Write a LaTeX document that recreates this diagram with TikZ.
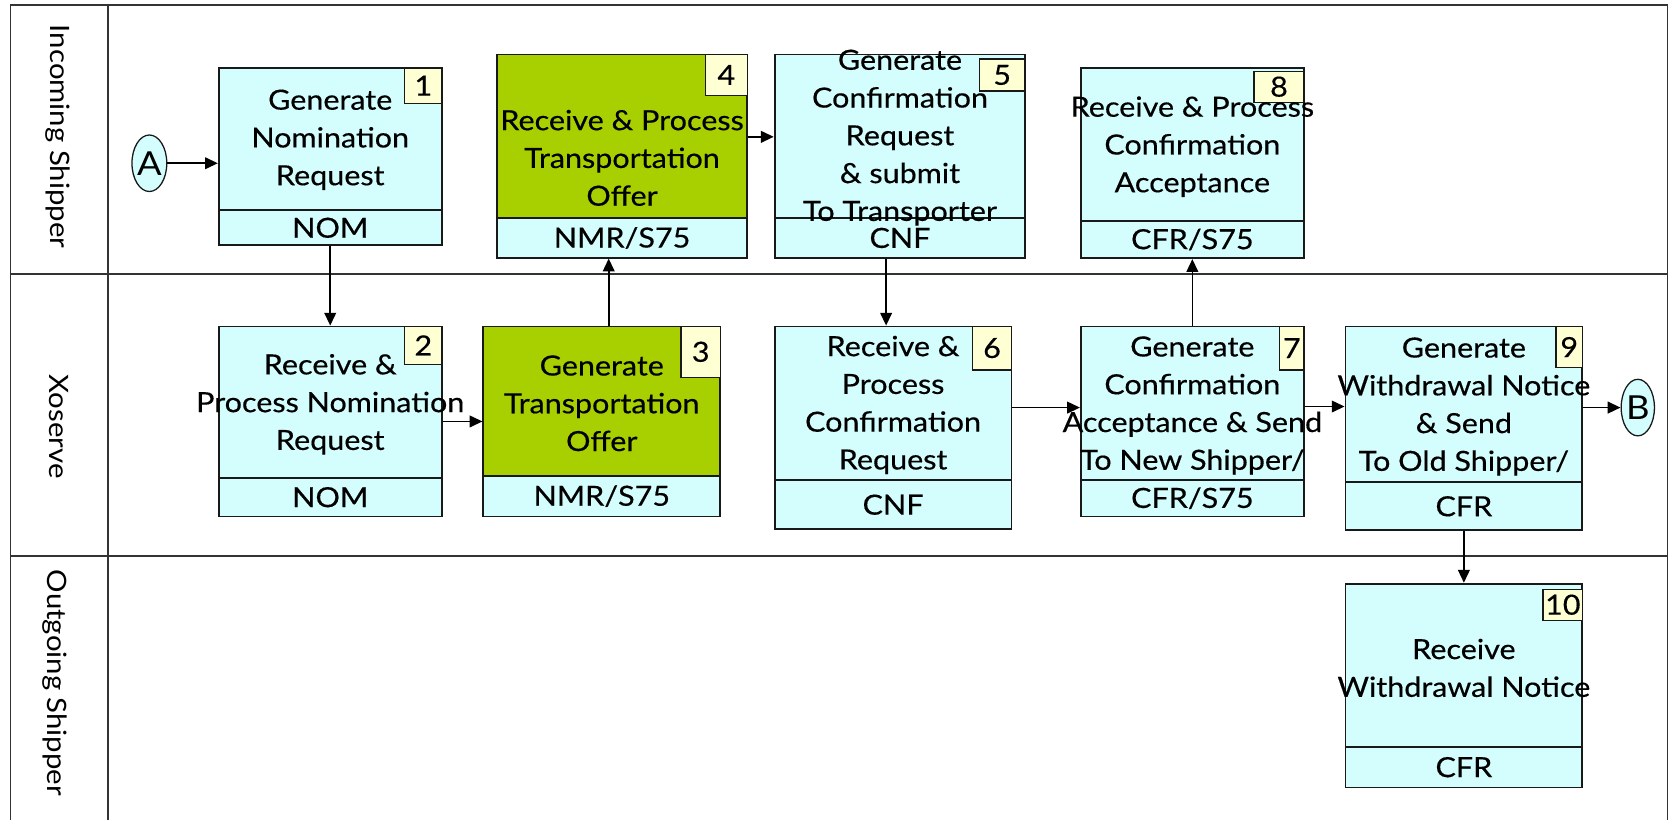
\documentclass[tikz,border=0pt]{standalone}
\usepackage{fontspec}
\setmainfont{Lato}[FakeStretch=1.1,FakeBold=0.4]
\newfontfamily\lanefont{Lato}[FakeStretch=1.1]
\usetikzlibrary{arrows.meta,calc,shapes.geometric}

\definecolor{boxcyan}{RGB}{212,253,253}
\definecolor{boxgreen}{RGB}{168,207,0}
\definecolor{tagyellow}{RGB}{255,255,212}

\begin{document}
\begin{tikzpicture}[x=1pt,y=-1pt,font=\fontsize{26}{35.4}\selectfont]

\tikzset{procbox/.style={draw=black!90,fill=boxcyan,line width=1.7pt,inner sep=0pt,shape=rectangle},
greenbox/.style={procbox,fill=boxgreen},
codepart/.style={procbox,anchor=south},
numtag/.style={draw=black!90,fill=tagyellow,line width=1.2pt,inner sep=0pt,anchor=north east},
steptext/.style={align=center,inner sep=0pt},
connector/.style={shape=ellipse,draw=black!90,fill=boxcyan,line width=1.2pt,inner sep=0pt,minimum width=26pt,minimum height=53pt,font=\lanefont\fontsize{31}{31}\selectfont},
lanelabel/.style={rotate=-90,font=\lanefont\fontsize{25}{30}\selectfont},
flow/.style={-{Triangle[length=12pt,width=11pt]},line width=1.5pt}}

\useasboundingbox (0,0) rectangle (1568,767.6);

% Swim lanes
\draw[line width=1.5pt,draw=black!80] (10,4.5) rectangle (1563,772);
\draw[line width=1.5pt,draw=black!80] (101.5,4.5) -- (101.5,772);
\draw[line width=1.5pt,draw=black!80] (10,257) -- (1563,257);
\draw[line width=1.5pt,draw=black!80] (10,521) -- (1563,521);
\node[lanelabel] (lane1) at (54,128) {Incoming Shipper};
\node[lanelabel] (lane2) at (55,400) {Xoserve};
\node[lanelabel] (lane3) at (51,640) {Outgoing Shipper};

% Process boxes
\node[procbox,minimum width=209pt,minimum height=166pt] (b1) at (309.5,147) {};
\node[procbox,minimum width=209pt,minimum height=178pt] (b2) at (309.5,395) {};
\node[greenbox,minimum width=222pt,minimum height=178pt] (b3) at (564,395) {};
\node[greenbox,minimum width=234pt,minimum height=190.5pt] (b4) at (583,146.25) {};
\node[procbox,minimum width=235pt,minimum height=190.5pt] (b5) at (843.5,146.25) {};
\node[procbox,minimum width=222pt,minimum height=190pt] (b6) at (837,401) {};
\node[procbox,minimum width=209pt,minimum height=178pt] (b7) at (1117.5,395) {};
\node[procbox,minimum width=209pt,minimum height=178pt] (b8) at (1117.5,153) {};
\node[procbox,minimum width=222pt,minimum height=191pt] (b9) at (1372,401.5) {};
\node[procbox,minimum width=222pt,minimum height=191pt] (b10) at (1372,642.5) {};

% Flow codes
\node[codepart,minimum width=209pt,minimum height=33pt] (b1c) at (b1.south) {NOM};
\node[codepart,minimum width=209pt,minimum height=36pt] (b2c) at (b2.south) {NOM};
\node[codepart,minimum width=222pt,minimum height=38pt] (b3c) at (b3.south) {NMR/S75};
\node[codepart,minimum width=234pt,minimum height=37pt] (b4c) at (b4.south) {NMR/S75};
\node[codepart,minimum width=235pt,minimum height=37pt] (b5c) at (b5.south) {CNF};
\node[codepart,minimum width=222pt,minimum height=46pt] (b6c) at (b6.south) {CNF};
\node[codepart,minimum width=209pt,minimum height=34pt] (b7c) at (b7.south) {CFR/S75};
\node[codepart,minimum width=209pt,minimum height=35pt] (b8c) at (b8.south) {CFR/S75};
\node[codepart,minimum width=222pt,minimum height=45pt] (b9c) at (b9.south) {CFR};
\node[codepart,minimum width=222pt,minimum height=38pt] (b10c) at (b10.south) {CFR};

% Step numbers
\node[numtag,minimum width=35pt,minimum height=33pt] (b1n) at (b1.north east) {1};
\node[numtag,minimum width=35pt,minimum height=36pt] (b2n) at (b2.north east) {2};
\node[numtag,minimum width=37pt,minimum height=48pt] (b3n) at (b3.north east) {3};
\node[numtag,minimum width=39pt,minimum height=39pt] (b4n) at (b4.north east) {4};
\node[numtag,minimum width=42pt,minimum height=30pt] (b5n) at ([shift={(-1pt,-4.5pt)}]b5.north east) {5};
\node[numtag,minimum width=37pt,minimum height=41pt] (b6n) at (b6.north east) {6};
\node[numtag,minimum width=23pt,minimum height=41pt] (b7n) at (b7.north east) {7};
\node[numtag,minimum width=47pt,minimum height=29pt] (b8n) at ([yshift=-3pt]b8.north east) {8};
\node[numtag,minimum width=25pt,minimum height=39pt] (b9n) at (b9.north east) {9};
\node[numtag,minimum width=37pt,minimum height=29pt] (b10n) at ([yshift=-5.5pt]b10.north east) {10};

% Step texts
\node[steptext] (b1t) at (309.5,131) {Generate\\Nomination\\Request};
\node[steptext] (b2t) at (309.5,379) {Receive \&\\Process Nomination\\Request};
\node[steptext] (b3t) at (564,378) {Generate\\Transportation\\Offer};
\node[steptext] (b4t) at (583,148) {Receive \& Process\\Transportation\\Offer};
\node[steptext] (b5t) at (843.5,129) {Generate\\Confirmation\\Request\\\& submit\\To Transporter};
\node[steptext] (b6t) at (837,379.6) {Receive \&\\Process\\Confirmation\\Request};
\node[steptext] (b7t) at (1117.5,380) {Generate\\Confirmation\\Acceptance \& Send\\To New Shipper/};
\node[steptext] (b8t) at (1117.5,137.5) {Receive \& Process\\Confirmation\\Acceptance};
\node[steptext] (b9t) at (1372,381) {Generate\\Withdrawal Notice\\\& Send\\To Old Shipper/};
\node[steptext] (b10t) at (1372,626) {Receive\\Withdrawal Notice};

% Connectors
\node[connector] (A) at (140,153) {A};
\node[connector] (B) at (1535,382) {B};

% Arrows
\draw[flow] (A) -- (A -| b1.west);
\draw[flow] (b1) -- (b2);
\draw[flow] (b2) -- (b3);
\draw[flow] ([xshift=6.5pt]b3.north) -- ([xshift=6.5pt]b3.north |- b4.south);
\draw[flow] ([yshift=18pt]b4.east) -- ([yshift=18pt]b4.east -| b5.west);
\draw[flow] ([xshift=-13pt]b5.south) -- ([xshift=-13pt]b5.south |- b6.north);
\draw[flow] ([yshift=19pt]b6.east) -- ([yshift=19pt]b6.east -| b7.west);
\draw[flow] (b7) -- (b8);
\draw[flow] ([yshift=14pt]b7.east) -- ([yshift=14pt]b7.east -| b9.west);
\draw[flow] (b9.east |- B) -- (B);
\draw[flow] (b9) -- (b10);

\end{tikzpicture}
\end{document}
